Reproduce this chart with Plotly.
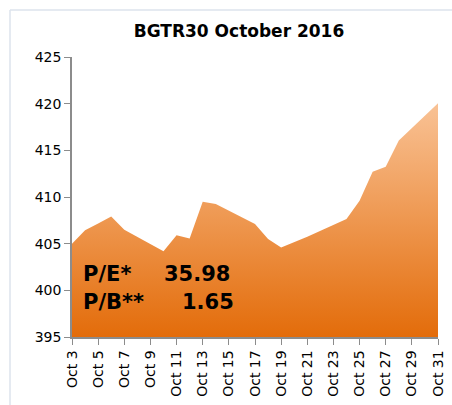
import plotly.graph_objects as go

title_text = "BGTR30 October 2016"
dates = ["2016-10-03", "2016-10-04", "2016-10-05", "2016-10-06", "2016-10-07",
         "2016-10-10", "2016-10-11", "2016-10-12", "2016-10-13", "2016-10-14",
         "2016-10-17", "2016-10-18", "2016-10-19", "2016-10-20", "2016-10-21",
         "2016-10-24", "2016-10-25", "2016-10-26", "2016-10-27", "2016-10-28",
         "2016-10-31"]
values = [405.0, 406.45, 407.15, 407.9, 406.5,
          404.2, 405.9, 405.55, 409.5, 409.25,
          407.1, 405.5, 404.6, 405.15, 405.75,
          407.65, 409.6, 412.7, 413.25, 416.05,
          420.05]
tick_dates = ["2016-10-%02d" % d for d in range(3, 32, 2)]
tick_labels = ["Oct %d" % d for d in range(3, 32, 2)]
y_ticks = [395, 400, 405, 410, 415, 420, 425]
pe_label, pe_value = "P/E*", "35.98"
pb_label, pb_value = "P/B**", "1.65"

fig = go.Figure()
fig.add_trace(go.Scatter(
    x=dates, y=values, mode="lines", fill="tozeroy",
    line=dict(width=0, color="#EE9A50"),
    fillgradient=dict(type="vertical", start=395, stop=420,
                      colorscale=[[0, "#E36C0A"], [1, "#F9C295"]]),
    hoverinfo="x+y", showlegend=False,
))

ann_font = dict(family="DejaVu Sans", size=21, color="#000000")
for lab, val, yp, xr in [(pe_label, pe_value, (337 - 274) / 280, (231.7 - 72) / 366),
                         (pb_label, pb_value, (337 - 302) / 280, (235.7 - 72) / 366)]:
    fig.add_annotation(xref="paper", yref="paper", x=(81 - 72) / 366, y=yp, text="<b>%s</b>" % lab,
                       showarrow=False, xanchor="left", yanchor="middle", font=ann_font)
    fig.add_annotation(xref="paper", yref="paper", x=xr, y=yp, text="<b>%s</b>" % val,
                       showarrow=False, xanchor="right", yanchor="middle", font=ann_font)

# faint chart border (left and top)
fig.add_shape(type="line", xref="paper", yref="paper", x0=-62/366, x1=1.2, y0=(337-10)/280, y1=(337-10)/280,
              line=dict(color="#DCE3EC", width=1.5))
fig.add_shape(type="line", xref="paper", yref="paper", x0=-62/366, x1=-62/366, y0=-0.5, y1=(337-10)/280,
              line=dict(color="#DCE3EC", width=1.5))

fig.update_layout(
    width=452, height=405,
    margin=dict(l=72, r=14, t=57, b=68),
    paper_bgcolor="white", plot_bgcolor="white",
    title=dict(text="<b>%s</b>" % title_text, x=239/452, xanchor="center", y=1-31/405, yanchor="middle",
               font=dict(family="DejaVu Sans", size=17, color="#000000")),
    xaxis=dict(type="date", range=["2016-10-03", "2016-10-31"], tickvals=tick_dates, ticktext=tick_labels,
               tickangle=-90, ticks="outside", ticklen=6, tickcolor="#8C8C8C", tickwidth=1.3,
               showline=True, linecolor="#8C8C8C", linewidth=1.5, showgrid=False, zeroline=False,
               automargin=False,
               tickfont=dict(family="DejaVu Sans", size=14, color="#000000")),
    yaxis=dict(range=[395, 425], tickvals=y_ticks, ticks="outside", ticklen=6, tickcolor="#8C8C8C",
               tickwidth=1.3, showline=True, linecolor="#8C8C8C", linewidth=1.5, showgrid=False,
               zeroline=False, automargin=False,
               tickfont=dict(family="DejaVu Sans", size=14, color="#000000")),
)

fig.write_html("out.html", config={"displayModeBar": False},
               post_script="document.body.style.margin='0';")
